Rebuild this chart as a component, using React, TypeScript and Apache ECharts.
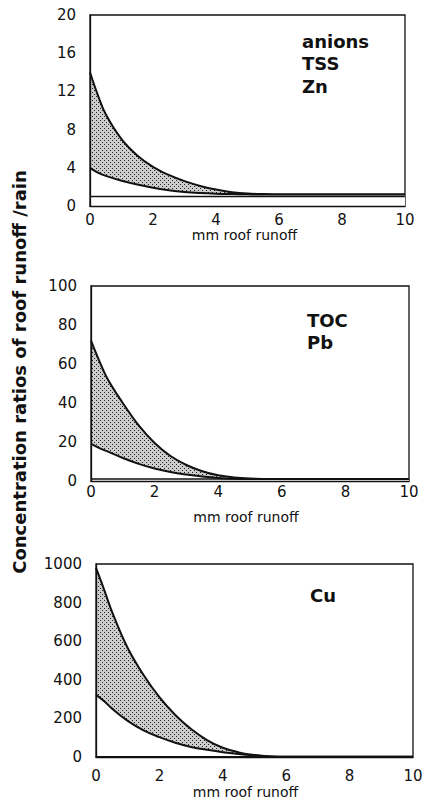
import React, { useEffect, useRef } from "react";
import * as echarts from "echarts";

// runoff depth (mm)
const runoffMm = [0, 0.25, 0.5, 1, 1.5, 2, 2.5, 3, 3.5, 4, 4.5, 5, 5.5, 6, 7, 8, 9, 10];

// Panel 1: anions, TSS, Zn
const p1Upper = [14, 11.6, 9.6, 7.0, 5.3, 4.1, 3.25, 2.6, 2.1, 1.72, 1.45, 1.3, 1.25, 1.2, 1.2, 1.2, 1.2, 1.2];
const p1Lower = [4.0, 3.5, 3.15, 2.65, 2.25, 1.9, 1.65, 1.47, 1.36, 1.29, 1.25, 1.22, 1.2, 1.2, 1.2, 1.2, 1.2, 1.2];

// Panel 2: TOC, Pb
const p2Upper = [72, 62, 53, 40, 28.5, 19.5, 12.8, 8.2, 5.0, 2.9, 1.8, 1.25, 1.05, 1.0, 1.0, 1.0, 1.0, 1.0];
const p2Lower = [19, 17, 15.3, 11.8, 8.8, 6.4, 4.6, 3.3, 2.3, 1.6, 1.2, 1.05, 1.0, 1.0, 1.0, 1.0, 1.0, 1.0];

// Panel 3: Cu
const p3Upper = [980, 870, 755, 565, 425, 310, 218, 145, 88, 48, 24, 10, 3, 1, 1, 1, 1, 1];
const p3Lower = [322, 290, 252, 187, 138, 103, 74, 52, 37, 25, 15, 8, 3, 1, 1, 1, 1, 1];

// ratio roof runoff / rain = 1
const rainRatio = 1;

const yMax = [20, 100, 1000];
const yInterval = [4, 20, 200];
const xTicks = [0, 10, 2];
const panelLabels = [["anions", "TSS", "Zn"], ["TOC", "Pb"], ["Cu"]];
const xName = "mm roof runoff";
const yTitle = "Concentration ratios of roof runoff /rain";

const FONT = '"DejaVu Sans", "Liberation Sans", Arial, sans-serif';

function makeStipple(): any {
  const c = document.createElement("canvas");
  c.width = 4;
  c.height = 4;
  const ctx = c.getContext("2d");
  if (!ctx) return "#b8b8b8";
  ctx.fillStyle = "#cdcdcd";
  ctx.fillRect(0, 0, 4, 4);
  ctx.fillStyle = "#222";
  ctx.fillRect(0, 0, 1, 1);
  ctx.fillRect(2, 2, 1, 1);
  return { image: c, repeat: "repeat" };
}

export default function App() {
  const ref = useRef<HTMLDivElement>(null);
  useEffect(() => {
    if (!ref.current) return;
    const chart = echarts.init(ref.current, null, { renderer: "svg" });

    const grids = [
      { left: 90, top: 15, width: 315, height: 191 },
      { left: 91, top: 286, width: 318, height: 195 },
      { left: 96, top: 564, width: 317, height: 193 },
    ];
    const xLabelMargin = [6, 3, 11];
    const xNameGap = [18, 29, 28];
    const xNamePad = [[0, 6, 0, 0], [0, 8, 0, 0], [0, 18, 0, 0]];
    const yLabelPad = [[6, 0, 0, 0], [4, 0, 0, 0], [3, 0, 0, 0]];

    const uppers = [p1Upper, p2Upper, p3Upper];
    const lowers = [p1Lower, p2Lower, p3Lower];
    const stipple = makeStipple();

    const series: any[] = [];
    for (let i = 0; i < 3; i++) {
      const lower = lowers[i];
      const upper = uppers[i];
      // upper envelope, filled down to the axis with stipple
      series.push({
        type: "line",
        xAxisIndex: i,
        yAxisIndex: i,
        smooth: 0.4,
        data: runoffMm.map((x, k) => [x, upper[k]]),
        symbol: "none",
        lineStyle: { color: "#111", width: 2 },
        areaStyle: { color: stipple, opacity: 1 },
        z: 2,
      });
      // lower envelope, white fill below so only the band stays shaded
      series.push({
        type: "line",
        xAxisIndex: i,
        yAxisIndex: i,
        smooth: 0.4,
        data: runoffMm.map((x, k) => [x, lower[k]]),
        symbol: "none",
        lineStyle: { color: "#111", width: 2 },
        areaStyle: { color: "#fff", opacity: 1 },
        z: 3,
      });
      series.push({
        type: "line",
        xAxisIndex: i,
        yAxisIndex: i,
        data: runoffMm.map((x) => [x, rainRatio]),
        symbol: "none",
        lineStyle: { color: "#111", width: 1.5 },
        z: 4,
      });
    }

    const graphics: any[] = [
      {
        type: "text",
        x: 19,
        y: 372,
        rotation: Math.PI / 2,
        style: {
          text: yTitle,
          font: `bold 18px ${FONT}`,
          fill: "#111",
          textAlign: "center",
          textVerticalAlign: "middle",
        },
      },
    ];
    const labelPos = [
      { x: 302, y: 41, step: 22.5 },
      { x: 307, y: 320, step: 22 },
      { x: 310, y: 595, step: 22 },
    ];
    panelLabels.forEach((lines, i) => {
      lines.forEach((t, j) => {
        graphics.push({
          type: "text",
          x: labelPos[i].x,
          y: labelPos[i].y + j * labelPos[i].step,
          style: {
            text: t,
            font: `bold 18px ${FONT}`,
            fill: "#111",
            textAlign: "left",
            textVerticalAlign: "middle",
          },
        });
      });
    });

    chart.setOption({
      animation: false,
      backgroundColor: "#fff",
      grid: grids.map((g) => ({
        ...g,
        show: true,
        borderColor: "#111",
        borderWidth: 1.3,
        backgroundColor: "transparent",
      })),
      xAxis: grids.map((_, i) => ({
        type: "value",
        gridIndex: i,
        min: xTicks[0],
        max: xTicks[1],
        interval: xTicks[2],
        name: xName,
        nameLocation: "middle",
        nameGap: xNameGap[i],
        nameTextStyle: {
          fontFamily: FONT,
          fontSize: 14,
          color: "#111",
          padding: xNamePad[i],
        },
        z: 10,
        axisLine: { show: true, lineStyle: { color: "#111", width: 1.3 } },
        axisTick: { show: false },
        splitLine: { show: false },
        axisLabel: {
          fontFamily: FONT,
          fontSize: 15,
          color: "#111",
          margin: xLabelMargin[i],
          showMinLabel: true,
          showMaxLabel: true,
        },
      })),
      yAxis: grids.map((_, i) => ({
        type: "value",
        gridIndex: i,
        min: 0,
        max: yMax[i],
        interval: yInterval[i],
        z: 10,
        axisLine: { show: true, lineStyle: { color: "#111", width: 1.3 } },
        axisTick: { show: false },
        splitLine: { show: false },
        axisLabel: {
          fontFamily: FONT,
          fontSize: 15,
          color: "#111",
          margin: 14,
          padding: yLabelPad[i],
          formatter: (v: number) => String(v),
        },
      })),
      series,
      graphic: graphics,
    });
    return () => chart.dispose();
  }, []);
  return (
    <div
      ref={ref}
      style={{ position: "absolute", left: 0, top: 0, width: 427, height: 801 }}
    />
  );
}
